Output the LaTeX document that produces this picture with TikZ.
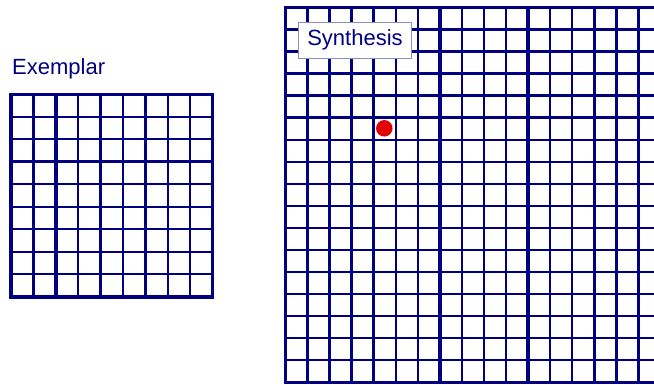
\documentclass[tikz,border=0pt]{standalone}
\usepackage{fontspec}
\setmainfont{Liberation Sans}
\definecolor{gridnavy}{RGB}{0,0,128}
\definecolor{dotred}{RGB}{225,0,0}
\tikzset{
  thinline/.style={gridnavy, line width=2.3pt},
  thickline/.style={gridnavy, line width=3.4pt},
  labeltext/.style={gridnavy, font=\fontsize{22}{26}\selectfont, inner sep=0pt},
}
\begin{document}
\begin{tikzpicture}[x=1pt, y=-1pt]
    \useasboundingbox (0,0) rectangle (654,385);
    \clip (0,0) rectangle (654,385);
    % Exemplar
    \node[labeltext, anchor=base west] (exemplarlabel) at (12,75) {Exemplar};
    \foreach \i in {1,...,8} {
        \draw[thinline] (11+22.4*\i,94.3) -- (11+22.4*\i,296.8);
        \draw[thinline] (11,94.3+22.5*\i) -- (212.6,94.3+22.5*\i);
    }
    \draw[thickline] (11+22.4*2,94.3) -- (11+22.4*2,296.8);
    \draw[thickline] (11,94.3+22.5*3) -- (212.6,94.3+22.5*3);
    \draw[thickline] (11,94.3) rectangle (212.6,296.8);
    % Synthesis
    \foreach \i in {1,...,16}
        \draw[thinline] (285.3+22.08*\i,7.3) -- (285.3+22.08*\i,382.3);
    \foreach \j in {1,...,16}
        \draw[thinline] (285.3,7.3+22.06*\j) -- (660,7.3+22.06*\j);
    \foreach \i in {0,7,11,15}
        \draw[thickline] (285.3+22.08*\i,7.3) -- (285.3+22.08*\i,382.3);
    \draw[thickline] (284,7.3) -- (660,7.3);
    \draw[thickline] (284,382.3) -- (660,382.3);
    \node[labeltext, fill=white, draw=gridnavy!45, line width=0.8pt,
          minimum width=113.4pt, minimum height=36pt] (synthlabel) at (355,40.3) {Synthesis};
    % current pixel
    \node[circle, fill=dotred, minimum size=16.5pt, inner sep=0pt] (pixel) at (384.3,128.3) {};
\end{tikzpicture}
\end{document}
